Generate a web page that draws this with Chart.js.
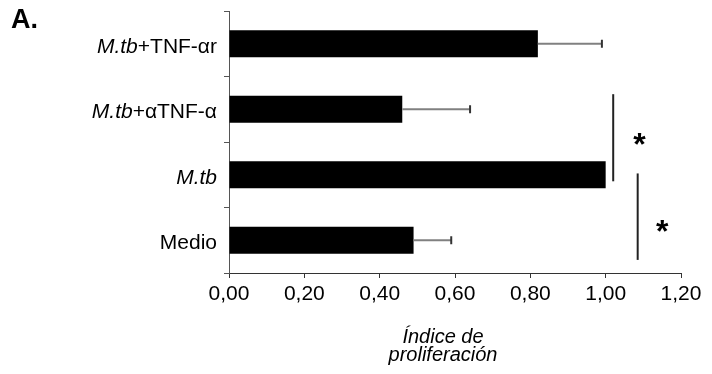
<!DOCTYPE html>
<html>
<head>
<meta charset="utf-8">
<script src="https://cdn.jsdelivr.net/npm/chart.js@4/dist/chart.umd.min.js"></script>
<style>
  body { margin: 0; background: #fff; }
</style>
</head>
<body>
<canvas id="graph" width="712" height="374"></canvas>
<script>
// groups, top to bottom
const categories = ['M.tb+TNF-αr', 'M.tb+αTNF-α', 'M.tb', 'Medio'];
// italic prefix of each label
const italicPart = ['M.tb', 'M.tb', 'M.tb', ''];
const values = [0.82, 0.46, 1.00, 0.49];
const errors = [0.17, 0.18, 0, 0.10];
const xTicks = [0, 0.2, 0.4, 0.6, 0.8, 1.0, 1.2];

// significance brackets: x value, from / to category index
const sigX = [1.02, 1.085];
const sigFrom = [0.77, 1.98];
const sigTo = [2.1, 3.3];
const starX = [1.09, 1.15];
const starY = [1.46, 2.78];

const FONT = "'Liberation Sans', Arial, Helvetica, sans-serif";

const extras = {
  id: 'extras',
  afterDatasetsDraw(chart) {
    const ctx = chart.ctx;
    const x = chart.scales.x, y = chart.scales.y;
    ctx.save();

    // error bars (upper side only)
    values.forEach((v, i) => {
      if (!errors[i]) return;
      const yc = y.getPixelForValue(i);
      const x0 = x.getPixelForValue(v);
      const x1 = x.getPixelForValue(v + errors[i]);
      ctx.strokeStyle = '#808080';
      ctx.lineWidth = 2;
      ctx.beginPath();
      ctx.moveTo(x0, yc);
      ctx.lineTo(x1, yc);
      ctx.stroke();
      ctx.strokeStyle = '#333';
      ctx.beginPath();
      ctx.moveTo(x1, yc - 4);
      ctx.lineTo(x1, yc + 4);
      ctx.stroke();
    });

    // category labels with italic species name
    ctx.fillStyle = '#000';
    ctx.textBaseline = 'middle';
    categories.forEach((c, i) => {
      const yc = y.getPixelForValue(i) + 3;
      const it = italicPart[i];
      const rest = c.slice(it.length);
      let xr = y.right - 12;
      ctx.font = '21px ' + FONT;
      const wRest = ctx.measureText(rest).width;
      ctx.textAlign = 'left';
      ctx.fillText(rest, xr - wRest, yc);
      if (it) {
        ctx.font = 'italic 21px ' + FONT;
        const wIt = ctx.measureText(it).width;
        ctx.fillText(it, xr - wRest - wIt, yc);
      }
    });

    // significance lines and stars
    ctx.strokeStyle = '#222';
    ctx.lineWidth = 2;
    sigX.forEach((sx, i) => {
      const px = x.getPixelForValue(sx);
      ctx.beginPath();
      ctx.moveTo(px, y.getPixelForValue(sigFrom[i]));
      ctx.lineTo(px, y.getPixelForValue(sigTo[i]));
      ctx.stroke();
    });
    ctx.font = 'bold 32px ' + FONT;
    ctx.textAlign = 'center';
    ctx.textBaseline = 'alphabetic';
    const m = ctx.measureText('*');
    const shift = (m.actualBoundingBoxAscent - m.actualBoundingBoxDescent) / 2;
    starX.forEach((sx, i) => {
      ctx.fillText('*', x.getPixelForValue(sx), y.getPixelForValue(starY[i]) + shift);
    });

    // panel letter
    ctx.textAlign = 'left';
    ctx.font = 'bold 27px ' + FONT;
    ctx.fillText('A.', 11, 28);

    // axis title
    ctx.textAlign = 'center';
    ctx.font = 'italic 20px ' + FONT;
    const cx = (x.left + x.right) / 2 - 12;
    ctx.fillText('Índice de', cx, 343);
    ctx.fillText('proliferación', cx, 361);

    ctx.restore();
  }
};

new Chart(document.getElementById('graph').getContext('2d'), {
  type: 'bar',
  data: {
    labels: categories,
    datasets: [{
      data: values,
      backgroundColor: '#000',
      borderWidth: 0,
      categoryPercentage: 1,
      barPercentage: 0.41
    }]
  },
  options: {
    indexAxis: 'y',
    responsive: false,
    animation: false,
    layout: { padding: { top: 11, right: 31, bottom: 0, left: 0 } },
    plugins: {
      legend: { display: false },
      tooltip: { enabled: false }
    },
    scales: {
      x: {
        min: 0,
        max: 1.2,
        afterBuildTicks: (s) => { s.ticks = xTicks.map(v => ({ value: v })); },
        ticks: {
          color: '#000',
          padding: 4,
          maxRotation: 0,
          font: { family: FONT, size: 21 },
          callback: (v) => Number(v).toFixed(2).replace('.', ',')
        },
        grid: { drawOnChartArea: false, tickLength: 5, color: '#333' },
        border: { color: '#333', width: 1 },
        afterFit: (s) => { s.height = 101; }
      },
      y: {
        ticks: { display: false },
        grid: { drawOnChartArea: false, tickLength: 5, color: '#555', offset: true },
        border: { color: '#555', width: 1 },
        afterFit: (s) => { s.width = 229; }
      }
    }
  },
  plugins: [extras]
});
</script>
</body>
</html>
